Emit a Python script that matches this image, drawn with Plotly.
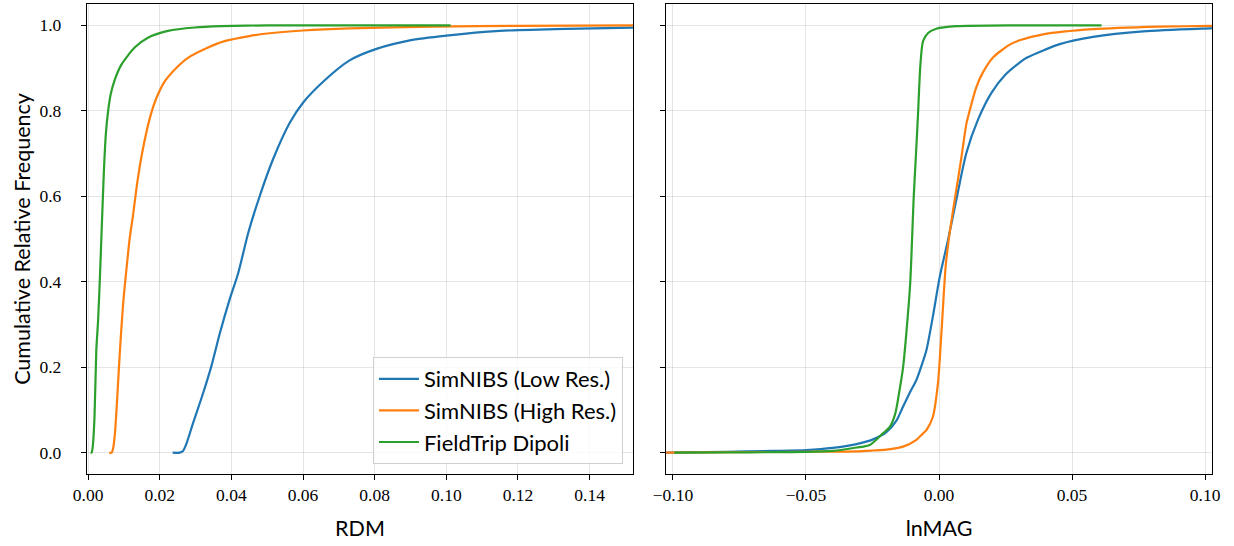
import plotly.graph_objects as go

# ---------------- data ----------------
series_names = ["SimNIBS (Low Res.)", "SimNIBS (High Res.)", "FieldTrip Dipoli"]
series_colors = ["#1f77b4", "#ff7f0e", "#2ca02c"]

# RDM (left panel) cumulative curves
rdm_low_x = [0.0236, 0.0255, 0.0265, 0.0275, 0.0293, 0.0321, 0.0344, 0.0368, 0.0395, 0.0419,
             0.0447, 0.0479, 0.0516, 0.0563, 0.0600, 0.0656, 0.0730, 0.0805, 0.0898, 0.1000,
             0.1149, 0.1335, 0.1540]
rdm_low_y = [0.0, 0.0, 0.004, 0.022, 0.069, 0.139, 0.202, 0.280, 0.358, 0.420,
             0.514, 0.600, 0.686, 0.772, 0.819, 0.868, 0.918, 0.945, 0.965, 0.976,
             0.987, 0.992, 0.995]

rdm_high_x = [0.0059, 0.0066, 0.0070, 0.0075, 0.0081, 0.0089, 0.0098, 0.0106, 0.0116, 0.01257,
              0.01378, 0.01536, 0.0175, 0.0191, 0.0214, 0.0247, 0.0279, 0.0335, 0.0381, 0.0450,
              0.0500, 0.0600, 0.0730, 0.0963, 0.1200, 0.1540]
rdm_high_y = [0.0, 0.0, 0.010, 0.045, 0.123, 0.240, 0.350, 0.420, 0.500, 0.557,
              0.635, 0.713, 0.791, 0.8306, 0.869, 0.901, 0.924, 0.948, 0.963, 0.975,
              0.981, 0.988, 0.993, 0.997, 0.999, 1.0]

rdm_dip_x = [0.0007, 0.0010, 0.0013, 0.0018, 0.0023, 0.0028, 0.0033, 0.0037, 0.0041, 0.0045,
             0.0050, 0.0056, 0.0063, 0.0073, 0.0093, 0.0130, 0.0167, 0.0223, 0.0298, 0.0372,
             0.0500, 0.0700, 0.1012]
rdm_dip_y = [0.0, 0.0, 0.014, 0.084, 0.240, 0.310, 0.410, 0.500, 0.590, 0.675,
             0.750, 0.800, 0.838, 0.869, 0.908, 0.948, 0.971, 0.987, 0.995, 0.998,
             1.0, 1.0, 1.0]

# lnMAG (right panel) cumulative curves
mag_low_x = [-0.105, -0.080, -0.0624, -0.050, -0.040, -0.031, -0.0248, -0.0198, -0.0160, -0.0135,
             -0.0110, -0.0085, -0.0065, -0.0047, -0.0023, 0.0003, 0.0034, 0.0065, 0.0103, 0.0147,
             0.0197, 0.0250, 0.0303, 0.0329, 0.0454, 0.0579, 0.0767, 0.1018, 0.1060]
mag_low_y = [0.0, 0.002, 0.004, 0.006, 0.011, 0.020, 0.031, 0.048, 0.075, 0.108,
             0.140, 0.170, 0.205, 0.241, 0.319, 0.4125, 0.498, 0.592, 0.702, 0.780,
             0.842, 0.885, 0.913, 0.924, 0.956, 0.973, 0.986, 0.993, 0.994]

mag_high_x = [-0.107, -0.080, -0.050, -0.031, -0.0248, -0.0198, -0.0135, -0.0085, -0.0060, -0.0047,
              -0.0023, -0.0004, 0.0009, 0.0025, 0.0040, 0.0059, 0.0082, 0.0103, 0.0115, 0.0140,
              0.0165, 0.0203, 0.0266, 0.0303, 0.0391, 0.0579, 0.0830, 0.1026, 0.1060]
mag_high_y = [0.0, 0.001, 0.002, 0.003, 0.005, 0.007, 0.014, 0.030, 0.045, 0.053,
              0.084, 0.1625, 0.280, 0.436, 0.514, 0.592, 0.682, 0.770, 0.800, 0.855,
              0.890, 0.925, 0.955, 0.965, 0.979, 0.991, 0.997, 0.999, 1.0]

mag_dip_x = [-0.0995, -0.080, -0.0624, -0.050, -0.040, -0.031, -0.026, -0.0211, -0.0185, -0.0165,
             -0.0150, -0.0135, -0.0120, -0.0108, -0.0095, -0.0088, -0.0079, -0.0070, -0.0060, -0.0041,
             -0.0010, 0.0065, 0.0300, 0.0611]
mag_dip_y = [0.0, 0.0005, 0.001, 0.0015, 0.004, 0.012, 0.018, 0.045, 0.060, 0.090,
             0.140, 0.200, 0.300, 0.400, 0.600, 0.682, 0.791, 0.908, 0.963, 0.982,
             0.992, 0.998, 1.0, 1.0]

rdm_ticks = [0.00, 0.02, 0.04, 0.06, 0.08, 0.10, 0.12, 0.14]
mag_ticks = [-0.10, -0.05, 0.00, 0.05, 0.10]
y_ticks = [0.0, 0.2, 0.4, 0.6, 0.8, 1.0]

# ---------------- figure ----------------
fig = go.Figure()

left = [(rdm_low_x, rdm_low_y), (rdm_high_x, rdm_high_y), (rdm_dip_x, rdm_dip_y)]
right = [(mag_low_x, mag_low_y), (mag_high_x, mag_high_y), (mag_dip_x, mag_dip_y)]

for i, (xs, ys) in enumerate(left):
    fig.add_trace(go.Scatter(x=xs, y=ys, mode="lines", name=series_names[i],
                             line=dict(color=series_colors[i], width=2.2,
                                       shape="spline", smoothing=0.7),
                             xaxis="x", yaxis="y", legendgroup=series_names[i]))
for i, (xs, ys) in enumerate(right):
    fig.add_trace(go.Scatter(x=xs, y=ys, mode="lines", name=series_names[i],
                             line=dict(color=series_colors[i], width=2.2,
                                       shape="spline", smoothing=0.7),
                             xaxis="x2", yaxis="y2", legendgroup=series_names[i],
                             showlegend=False))

tick_font = dict(family="Liberation Serif", size=17.5, color="black")
title_font = dict(family="Lato", size=21.5, color="black")
grid_col = "rgba(0,0,0,0.10)"

common_axis = dict(showline=True, linecolor="black", linewidth=1.4, mirror=True,
                   ticks="outside", ticklen=5, tickwidth=1.3, tickcolor="black",
                   showgrid=True, gridcolor=grid_col, gridwidth=1, zeroline=False,
                   tickfont=tick_font, automargin=False)

fig.update_layout(
    width=1234, height=546,
    margin=dict(l=87, r=22, t=4, b=72),
    paper_bgcolor="white", plot_bgcolor="white",
    showlegend=True,
    legend=dict(x=0.4764, y=0.0213, xanchor="right", yanchor="bottom",
                bgcolor="rgba(255,255,255,0.8)", bordercolor="#d0d0d0", borderwidth=1,
                font=dict(family="Lato", size=22, color="black"),
                tracegroupgap=0, itemwidth=40),
    xaxis=dict(domain=[0, 0.4853], range=[-0.0003, 0.1521], tickvals=rdm_ticks,
               tickformat=".2f", ticklabelstandoff=0,
               title=dict(text="RDM", font=title_font, standoff=16),
               anchor="y", **common_axis),
    xaxis2=dict(domain=[0.5147, 1.0], range=[-0.1026, 0.1026], tickvals=mag_ticks,
                tickformat=".2f", ticklabelstandoff=0,
                title=dict(text="lnMAG", font=title_font, standoff=16),
                anchor="y2", **common_axis),
    yaxis=dict(domain=[0, 1], range=[-0.05, 1.05], tickvals=y_ticks, tickformat=".1f",
               ticklabelstandoff=16,
               title=dict(text="Cumulative Relative Frequency", font=title_font, standoff=2),
               anchor="x", **common_axis),
    yaxis2=dict(domain=[0, 1], range=[-0.05, 1.05], tickvals=y_ticks, showticklabels=False,
                matches="y", anchor="x2", **common_axis),
)

fig.write_html("out.html", config={"displayModeBar": False},
               post_script="document.body.style.margin='0';document.body.style.overflow='hidden';")
